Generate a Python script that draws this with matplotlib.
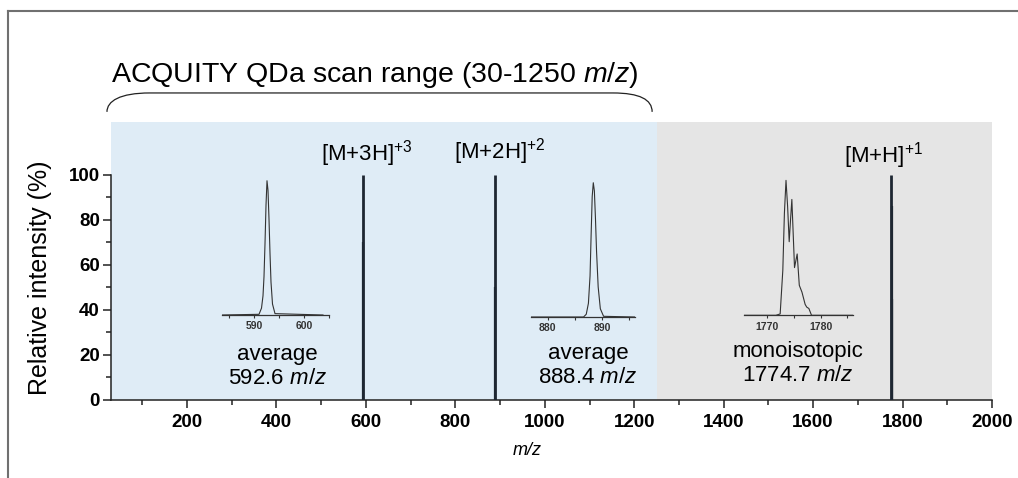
"""
Mass spectrum with QDa scan range shading and zoomed isotope insets
"""
import numpy as np
import matplotlib
matplotlib.use('Agg')
import matplotlib.pyplot as plt
from matplotlib.lines import Line2D
from matplotlib.path import Path
from matplotlib.patches import PathPatch

plt.rcParams['font.family'] = ['Liberation Sans', 'DejaVu Sans']
plt.rcParams['mathtext.fontset'] = 'custom'
plt.rcParams['mathtext.rm'] = 'Liberation Sans'
plt.rcParams['mathtext.it'] = 'Liberation Sans:italic'
plt.rcParams['mathtext.bf'] = 'Liberation Sans:bold'

# main stick spectrum
peak_mz = [592.6, 888.4, 1774.7]
peak_int = [100, 100, 100]
iso_mz = [592.9, 888.9, 1775.7, 1776.7]
iso_int = [70, 50, 86, 45]
ion_names = ['[M+3H]', '[M+2H]', '[M+H]']
ion_charges = ['+3', '+2', '+1']
scan_range = [30, 1250]
full_range = [30, 2000]

# zoomed profiles
in1_mz = [583.6, 591.0, 591.5, 591.8, 592.0, 592.2, 592.4, 592.6, 592.8, 593.0,
          593.2, 593.4, 593.7, 594.2, 603.8]
in1_int = [0, 0.5, 5, 14, 28, 52, 80, 98, 91, 70, 45, 24, 8, 1, 0]
in2_mz = [876.9, 886.6, 887.1, 887.5, 887.8, 888.0, 888.2, 888.4, 888.6, 888.8,
          889.0, 889.3, 889.7, 890.3, 896.1]
in2_int = [0, 0, 2, 10, 30, 60, 88, 98, 92, 72, 48, 22, 6, 0.5, 0]
in3_mz = [1765.6, 1771.6, 1772.4, 1772.9, 1773.2, 1773.5, 1773.8, 1774.1, 1774.35,
          1774.6, 1774.85, 1775.1, 1775.35, 1775.6, 1776.0, 1776.5, 1776.8, 1777.1,
          1777.4, 1777.8, 1778.3, 1786.1]
in3_int = [0, 0, 1, 33, 75, 99, 80, 54, 70, 85, 60, 35, 40, 45, 22, 17, 12.5, 8,
           6, 5, 0, 0]
inset_notes = ['average\n592.6 $\\mathit{m/z}$', 'average\n888.4 $\\mathit{m/z}$',
               'monoisotopic\n1774.7 $\\mathit{m/z}$']

W, H = 1018, 478
fig = plt.figure(figsize=(W / 100, H / 100), dpi=100)
ax = fig.add_axes([111 / W, 1 - 400 / H, 881 / W, 278 / H])

dark = '#1e2732'
ax.axvspan(scan_range[0], scan_range[1], color='#dfecf6', lw=0, zorder=0)
ax.axvspan(scan_range[1], full_range[1], color='#e5e5e5', lw=0, zorder=0)
ax.vlines(peak_mz, 0, peak_int, color=dark, lw=2.0, zorder=3)
ax.vlines(iso_mz, 0, iso_int, color=dark, lw=1.6, zorder=3)

ax.set_xlim(full_range)
ax.set_ylim(0, 123.5)
ax.set_xticks(np.arange(200, 2001, 200))
ax.set_xticks(np.arange(100, 2000, 200), minor=True)
ax.set_yticks(np.arange(0, 101, 20))
ax.set_yticks(np.arange(10, 100, 20), minor=True)
for s in ['top', 'right']:
    ax.spines[s].set_visible(False)
for s in ['left', 'bottom']:
    ax.spines[s].set_linewidth(1.1)
    ax.spines[s].set_color('#222222')
ax.spines['left'].set_bounds(0, 100)
ax.tick_params(which='major', length=5.8, width=1.1, color='#222222')
ax.tick_params(which='minor', length=3.6, width=1.1, color='#222222')
ax.tick_params(axis='x', pad=4.3)
ax.tick_params(axis='y', pad=2.2)
for lab in ax.get_xticklabels() + ax.get_yticklabels():
    lab.set_fontsize(13.5)
    lab.set_fontweight('bold')

ax.text(-0.0806, 0.44, 'Relative intensity (%)', transform=ax.transAxes,
        rotation=90, ha='center', va='center', fontsize=18)
ax.text(0.472, -0.18, 'm/z', transform=ax.transAxes, ha='center', va='center',
        fontsize=13, style='italic')

# ion labels above the peaks
label_x = [602, 900, 1758]
label_y = [106.2, 107.1, 105.3]
for name, z, lx, ly in zip(ion_names, ion_charges, label_x, label_y):
    ax.text(lx, ly, name + '$^{\\mathregular{' + z + '}}$', ha='center',
            va='baseline', fontsize=16, clip_on=False)

# scan range title and bracket
ax.text(620, 141.3, 'ACQUITY QDa scan range (30-1250 $\\mathit{m/z}$)',
        ha='center', va='baseline', fontsize=20.5, clip_on=False)
verts = [(21, 128), (21, 132.8), (50, 136.4), (117, 136.4),
         (1152, 136.4),
         (1212, 136.4), (1240, 133.5), (1240, 128)]
codes = [Path.MOVETO, Path.CURVE4, Path.CURVE4, Path.CURVE4,
         Path.LINETO,
         Path.CURVE4, Path.CURVE4, Path.CURVE4]
ax.add_patch(PathPatch(Path(verts, codes), fill=False, lw=0.9,
                       edgecolor='#222222', clip_on=False))

# notes under insets
note_x = [403, 1097, 1566]
note_y = [14.9, 15.3, 16.2]
for txt, nx, ny in zip(inset_notes, note_x, note_y):
    ax.text(nx, ny, txt, ha='center', va='center', fontsize=16,
            linespacing=1.2)

# insets
inset_px = [(222, 329, 315, 178), (531, 635, 317, 180), (744, 853, 315.3, 179)]
inset_data = [(in1_mz, in1_int, [590, 600], [585, 595, 605]),
              (in2_mz, in2_int, [880, 890], [885, 895]),
              (in3_mz, in3_int, [1770, 1780], [1775, 1785])]
for (l, r, b, t), (mz, inten, maj, mnr) in zip(inset_px, inset_data):
    ia = fig.add_axes([l / W, 1 - b / H, (r - l) / W, (b - t) / H])
    ia.patch.set_visible(False)
    ia.plot(mz, inten, color='#333333', lw=0.8)
    ia.set_xlim(mz[0], mz[-1])
    ia.set_ylim(0, 100)
    for s in ['top', 'right', 'left']:
        ia.spines[s].set_visible(False)
    ia.spines['bottom'].set_linewidth(0.9)
    ia.spines['bottom'].set_color('#333333')
    ia.set_yticks([])
    ia.set_xticks(maj)
    ia.set_xticks(mnr, minor=True)
    ia.tick_params(which='both', length=2.5, width=0.8, color='#333333', pad=2)
    for lab in ia.get_xticklabels():
        lab.set_fontsize(7.5)
        lab.set_fontweight('bold')
        lab.set_color('#333333')

# frame lines of the original figure panel
fig.add_artist(Line2D([7.5 / W, 1], [1 - 11 / H, 1 - 11 / H],
                      transform=fig.transFigure, color='#707070', lw=1.5))
fig.add_artist(Line2D([7.5 / W, 7.5 / W], [0, 1 - 11 / H],
                      transform=fig.transFigure, color='#707070', lw=1.5))

fig.savefig('out.png', dpi=100)
